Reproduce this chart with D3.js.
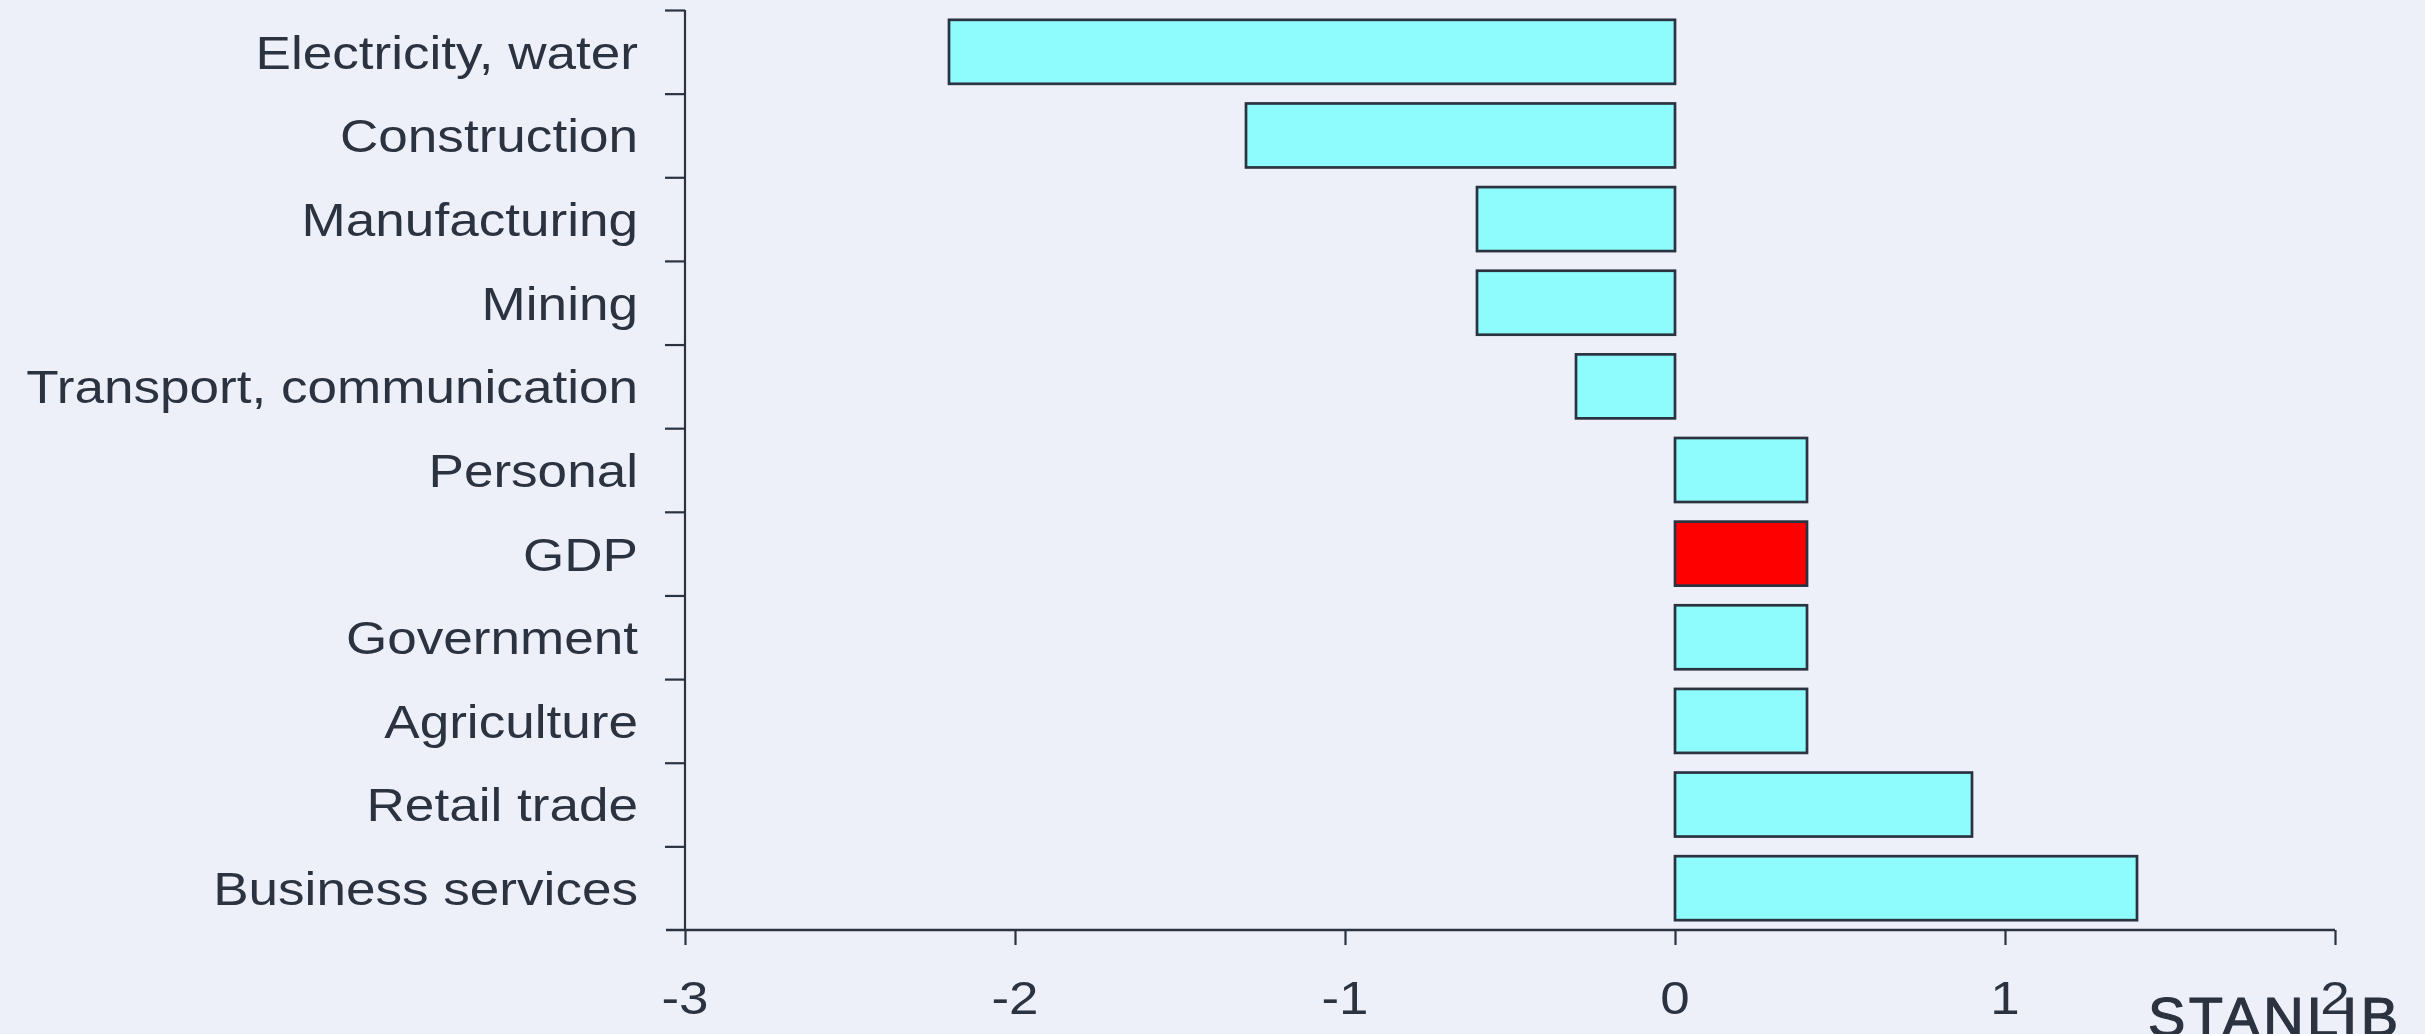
<!DOCTYPE html>
<html>
<head>
<meta charset="utf-8">
<script src="https://cdn.jsdelivr.net/npm/d3@7"></script>
<style>
  html, body { margin: 0; padding: 0; background: #EDF0F9; }
  svg { display: block; }
  text { font-family: "Liberation Sans", Arial, sans-serif; fill: #2B3240; }
</style>
</head>
<body>
<svg id="chart" width="2425" height="1034"></svg>
<script>
const categories = ["Electricity, water", "Construction", "Manufacturing", "Mining",
  "Transport, communication", "Personal", "GDP", "Government", "Agriculture",
  "Retail trade", "Business services"];
const values = [-2.2, -1.3, -0.6, -0.6, -0.3, 0.4, 0.4, 0.4, 0.4, 0.9, 1.4];
const highlight = ["GDP"];
const xTicks = [-3, -2, -1, 0, 1, 2];
const logoText = "STANLIB";

(function () {
const W = 2425, H = 1034;
const mLeft = 685, mRight = 2335, mTop = 10, mBottom = 930;
const ink = "#2B3240";
const stretch = 1.13;

const svg = d3.select("#chart");
svg.append("rect").attr("width", W).attr("height", H).attr("fill", "#EDF0F9");

const x = d3.scaleLinear().domain([-3, 2]).range([mLeft, mRight]);
const y = d3.scaleBand().domain(categories).range([mTop, mBottom])
  .paddingInner(0.235).paddingOuter(0.1175);
const yIdx = d3.scaleLinear().domain([0, categories.length]).range([mTop, mBottom]);

// bars
svg.append("g").selectAll("rect").data(categories).join("rect")
  .attr("x", (d, i) => x(Math.min(0, values[i])))
  .attr("width", (d, i) => Math.abs(x(values[i]) - x(0)))
  .attr("y", d => y(d))
  .attr("height", y.bandwidth())
  .attr("fill", d => highlight.includes(d) ? "#FF0000" : "#8EFCFC")
  .attr("stroke", ink).attr("stroke-width", 2.7);

// y axis (ticks at category boundaries)
const yAxis = d3.axisLeft(yIdx).tickValues(d3.range(0, categories.length))
  .tickSize(20).tickSizeOuter(0).tickFormat("");
const gy = svg.append("g").attr("transform", `translate(${mLeft},0)`).call(yAxis);
gy.select(".domain").attr("stroke", ink).attr("stroke-width", 2.2)
  .attr("d", `M0,${mTop}V${mBottom}`);
gy.selectAll(".tick line").attr("stroke", ink).attr("stroke-width", 2.2);

// category labels
svg.append("g").selectAll("g").data(categories).join("g")
  .attr("transform", d => `translate(638,${y(d) + y.bandwidth() / 2}) scale(${stretch},1)`)
  .append("text")
  .attr("text-anchor", "end")
  .attr("dy", "0.36em")
  .attr("font-size", 47)
  .text(d => d);

// x axis
const xAxis = d3.axisBottom(x).tickValues(xTicks).tickSize(15).tickSizeOuter(0).tickFormat("");
const gx = svg.append("g").attr("transform", `translate(0,${mBottom})`).call(xAxis);
gx.select(".domain").attr("stroke", ink).attr("stroke-width", 2.5)
  .attr("d", `M${mLeft - 19},0H${mRight}`);
gx.selectAll(".tick line").attr("stroke", ink).attr("stroke-width", 2.2);

// x tick labels
svg.append("g").selectAll("g").data(xTicks).join("g")
  .attr("transform", d => `translate(${x(d)},${mBottom + 84}) scale(1.15,1)`)
  .append("text")
  .attr("text-anchor", "middle")
  .attr("font-size", 46)
  .text(d => String(d));

// logo
svg.append("text")
  .attr("x", 2148).attr("y", 1036)
  .attr("font-size", 56)
  .attr("font-weight", 400)
  .attr("font-family", "'DejaVu Sans', sans-serif")
  .attr("stroke", "#2B3240").attr("stroke-width", 1.2)
  .attr("textLength", 250).attr("lengthAdjust", "spacing")
  .text(logoText);
})();
</script>
</body>
</html>
